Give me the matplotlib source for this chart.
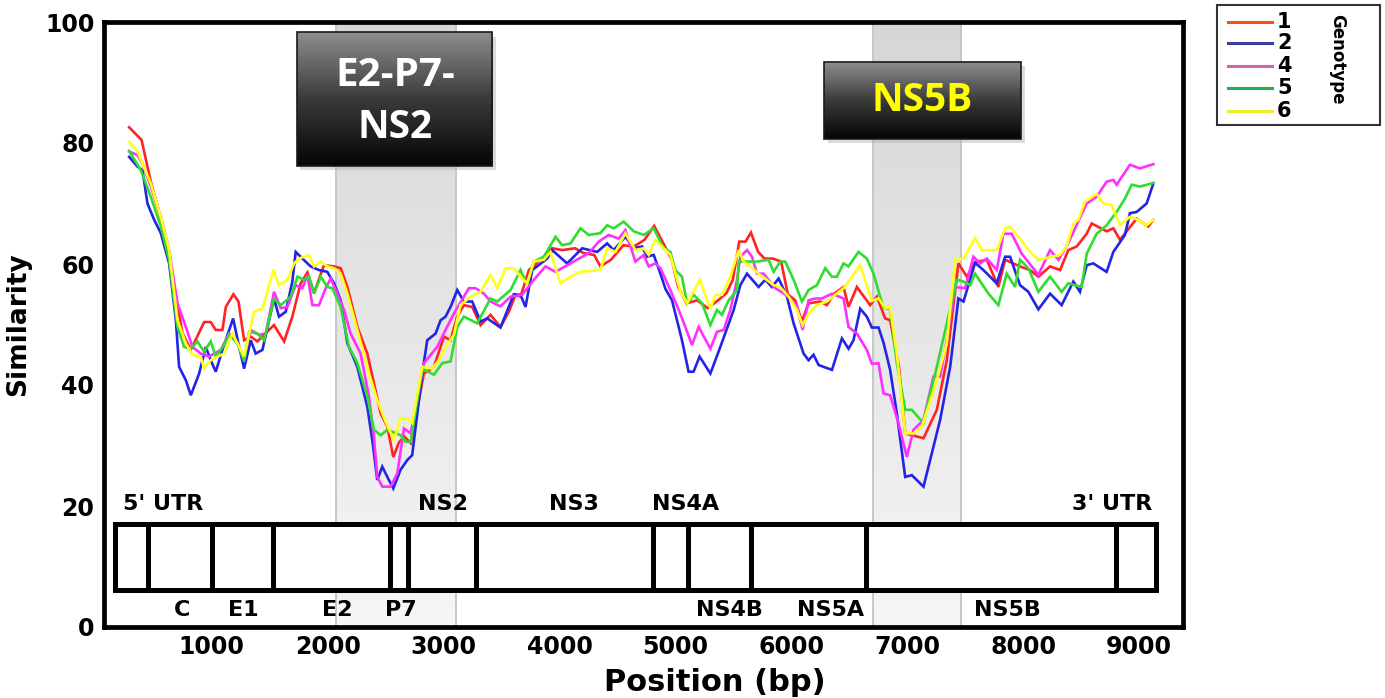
import numpy as np
import matplotlib
matplotlib.use("Agg")
import matplotlib.pyplot as plt
from matplotlib.patches import Rectangle
from matplotlib.lines import Line2D
from matplotlib.colors import LinearSegmentedColormap

# ---------------- data ----------------
genotypes = ["1", "2", "4", "5", "6"]
line_colors = ["#ff2323", "#2424e6", "#ff30ff", "#30dc30", "#ffff1e"]
legend_colors = ["#ff4a1c", "#3a3fa0", "#cc66aa", "#1db34a", "#eeee22"]

pos_g1 = [287, 394, 474, 589, 747, 819, 934, 991, 1034, 1092, 1121, 1187, 1230, 1279, 1336, 1394, 1451,
          1537, 1624, 1695, 1767, 1825, 1882, 1968, 2055, 2112, 2170, 2256, 2342, 2399, 2457, 2515, 2566,
          2615, 2660, 2716, 2787, 2830, 2917, 3003, 3060, 3118, 3175, 3247, 3319, 3405, 3491, 3563, 3621,
          3664, 3736, 3865, 3936, 4026, 4135, 4207, 4299, 4353, 4444, 4552, 4643, 4734, 4817, 4897, 4969,
          5024, 5096, 5188, 5278, 5369, 5441, 5496, 5551, 5605, 5652, 5714, 5768, 5841, 5913, 5970, 6034,
          6091, 6149, 6250, 6307, 6370, 6451, 6494, 6566, 6681, 6739, 6810, 6853, 6929, 6983, 7040, 7141,
          7256, 7342, 7442, 7515, 7586, 7687, 7787, 7845, 7974, 8060, 8132, 8233, 8319, 8391, 8463, 8549,
          8592, 8721, 8779, 8836, 8980, 9080, 9124]
sim_g1 = [82.6, 80.5, 73.6, 65.6, 48.6, 45.8, 50.4, 50.4, 49.1, 49.1, 52.9, 55.0, 53.8, 47.4, 48.0, 47.2, 48.3,
          49.9, 47.2, 51.3, 56.8, 58.6, 55.2, 59.8, 59.6, 59.3, 56.2, 49.6, 45.2, 40.3, 35.3, 33.1, 28.1,
          30.5, 31.5, 30.4, 37.5, 41.9, 43.0, 48.0, 47.4, 51.3, 53.2, 52.9, 49.9, 51.6, 49.6, 52.1, 54.9,
          54.6, 59.0, 61.2, 62.6, 62.3, 62.6, 61.8, 61.5, 59.6, 60.7, 63.1, 62.9, 64.0, 66.3, 63.4, 60.7,
          56.2, 53.5, 54.0, 52.7, 54.0, 55.2, 57.4, 63.7, 63.7, 65.2, 62.0, 60.9, 60.9, 60.4, 55.0, 54.0,
          50.5, 53.5, 53.8, 53.2, 55.1, 56.2, 52.9, 56.2, 53.2, 54.6, 51.0, 50.7, 43.0, 32.0, 31.7, 31.2,
          35.9, 44.1, 60.1, 57.9, 60.3, 60.7, 56.2, 60.7, 59.6, 59.0, 57.9, 59.6, 59.0, 62.3, 62.9, 65.0,
          66.7, 65.4, 65.9, 64.0, 67.5, 66.2, 67.3]

pos_g2 = [287, 359, 402, 445, 503, 560, 632, 690, 718, 776, 819, 891, 948, 991, 1034, 1092, 1184, 1236, 1279,
          1336, 1379, 1437, 1537, 1580, 1638, 1695, 1724, 1782, 1853, 1925, 1997, 2055, 2112, 2170, 2256,
          2342, 2385, 2428, 2471, 2528, 2566, 2629, 2687, 2729, 2816, 2859, 2931, 2974, 3017, 3060, 3118,
          3175, 3247, 3319, 3377, 3491, 3606, 3664, 3707, 3765, 3894, 3937, 4066, 4196, 4325, 4411, 4468,
          4569, 4641, 4713, 4756, 4813, 4871, 4914, 4971, 5057, 5114, 5157, 5209, 5302, 5388, 5503, 5560,
          5618, 5718, 5776, 5833, 5891, 5963, 6020, 6106, 6149, 6192, 6236, 6351, 6437, 6494, 6537, 6595,
          6652, 6695, 6753, 6796, 6853, 6911, 6983, 7040, 7141, 7198, 7284, 7371, 7442, 7486, 7586, 7658,
          7773, 7845, 7888, 7974, 8046, 8132, 8233, 8333, 8434, 8491, 8549, 8606, 8721, 8779, 8879, 8922,
          8980, 9066, 9124]
sim_g2 = [77.7, 76.1, 75.5, 70.0, 67.3, 65.1, 60.1, 50.7, 43.0, 40.8, 38.3, 41.9, 46.3, 44.1, 42.2, 45.8, 51.0,
          46.3, 42.7, 47.4, 45.2, 45.8, 54.3, 51.3, 52.1, 57.1, 62.0, 60.9, 59.6, 59.0, 58.7, 56.8, 54.0,
          46.9, 43.0, 36.4, 30.9, 24.3, 26.5, 24.3, 22.9, 26.0, 27.6, 28.4, 41.9, 47.4, 48.5, 50.7, 51.3,
          52.9, 55.7, 53.8, 53.8, 50.5, 51.0, 49.5, 55.0, 54.9, 52.9, 59.0, 60.9, 62.3, 60.1, 62.6, 62.0,
          63.4, 62.3, 64.5, 62.6, 62.9, 61.2, 61.5, 58.4, 55.9, 54.0, 47.4, 42.2, 42.2, 44.7, 41.9, 46.3,
          52.4, 56.5, 58.4, 56.2, 57.4, 56.2, 57.6, 54.6, 50.2, 45.2, 44.1, 45.0, 43.3, 42.5, 47.7, 46.0,
          47.4, 52.6, 51.3, 49.5, 49.5, 47.0, 42.5, 35.3, 24.8, 25.1, 23.2, 27.6, 34.2, 43.0, 54.3, 53.8,
          60.2, 59.0, 56.8, 61.2, 61.2, 56.5, 55.4, 52.5, 55.1, 53.2, 57.1, 55.4, 59.8, 60.1, 58.7, 62.0,
          64.8, 68.4, 68.6, 70.0, 73.3]

pos_g4 = [287, 359, 402, 474, 560, 632, 704, 776, 833, 905, 977, 1078, 1149, 1207, 1279, 1336, 1408, 1466,
          1537, 1595, 1652, 1724, 1782, 1825, 1868, 1925, 1983, 2026, 2083, 2141, 2198, 2284, 2356, 2399,
          2428, 2471, 2543, 2601, 2658, 2716, 2830, 2945, 3017, 3089, 3218, 3276, 3348, 3405, 3491, 3578,
          3678, 3779, 3879, 3966, 4066, 4253, 4339, 4425, 4511, 4569, 4655, 4727, 4770, 4828, 4871, 4957,
          5029, 5086, 5143, 5201, 5302, 5359, 5417, 5474, 5532, 5560, 5618, 5661, 5704, 5761, 5804, 5848,
          5977, 6049, 6098, 6149, 6207, 6264, 6351, 6451, 6494, 6566, 6652, 6695, 6753, 6796, 6853, 6925,
          6997, 7055, 7141, 7227, 7284, 7342, 7414, 7500, 7572, 7629, 7687, 7773, 7830, 7902, 7988, 8075,
          8132, 8233, 8305, 8376, 8549, 8635, 8721, 8779, 8807, 8922, 9009, 9124]
sim_g4 = [78.6, 78.0, 76.6, 72.8, 67.8, 62.3, 53.5, 49.6, 46.3, 45.2, 44.7, 45.8, 48.5, 47.4, 44.7, 49.1, 48.3,
          48.5, 55.4, 52.7, 52.9, 56.5, 56.0, 58.2, 53.2, 53.2, 56.0, 57.6, 55.1, 52.4, 48.5, 45.2, 38.1,
          31.5, 24.8, 23.2, 23.2, 25.4, 32.8, 32.0, 43.6, 46.3, 49.1, 51.8, 56.0, 56.0, 55.1, 53.8, 53.0,
          54.6, 54.9, 57.4, 59.6, 58.7, 59.8, 61.8, 63.7, 64.8, 64.2, 65.6, 60.4, 61.5, 59.6, 60.1, 59.3,
          55.7, 52.4, 49.6, 46.6, 49.6, 46.0, 48.8, 49.1, 52.4, 57.4, 61.2, 62.3, 61.2, 58.4, 58.4, 57.4,
          56.2, 54.6, 53.0, 49.1, 54.0, 54.3, 54.3, 55.1, 54.3, 49.6, 48.5, 45.8, 43.5, 43.6, 38.6, 38.3,
          33.7, 28.1, 32.6, 34.2, 41.4, 41.4, 47.4, 56.2, 56.0, 61.2, 60.1, 60.9, 59.0, 65.0, 65.0, 61.7,
          59.6, 58.2, 62.3, 60.7, 62.9, 70.0, 71.1, 73.6, 73.9, 73.1, 76.4, 75.8, 76.5]

pos_g5 = [287, 388, 474, 560, 632, 704, 761, 819, 876, 934, 991, 1034, 1106, 1149, 1221, 1279, 1322, 1394,
          1451, 1537, 1595, 1681, 1739, 1796, 1839, 1882, 1940, 1997, 2040, 2112, 2184, 2256, 2342, 2399,
          2457, 2515, 2629, 2672, 2716, 2816, 2917, 2988, 3060, 3118, 3175, 3290, 3405, 3463, 3578, 3664,
          3721, 3779, 3865, 3966, 4023, 4095, 4181, 4253, 4353, 4411, 4468, 4554, 4641, 4727, 4813, 4899,
          4957, 5000, 5057, 5101, 5158, 5230, 5302, 5359, 5402, 5460, 5532, 5546, 5618, 5704, 5804, 5848,
          5905, 5948, 6020, 6092, 6149, 6221, 6293, 6351, 6394, 6451, 6494, 6580, 6652, 6710, 6753, 6796,
          6853, 6911, 6983, 7040, 7141, 7198, 7256, 7428, 7486, 7543, 7586, 7701, 7787, 7859, 7931, 7974,
          8046, 8132, 8233, 8333, 8391, 8506, 8549, 8635, 8721, 8807, 8879, 8937, 9009, 9124]
sim_g5 = [78.7, 75.5, 71.1, 66.2, 60.7, 49.6, 46.3, 46.0, 47.2, 45.5, 47.2, 44.7, 46.6, 48.3, 46.9, 43.9, 48.8,
          48.5, 47.4, 54.3, 53.2, 54.6, 57.9, 57.4, 57.9, 55.1, 57.9, 56.2, 56.0, 52.9, 46.3, 43.6, 38.1,
          32.6, 31.7, 32.6, 31.7, 30.6, 30.6, 42.7, 41.7, 43.6, 43.9, 49.6, 51.3, 50.2, 54.3, 53.8, 55.7,
          59.0, 56.6, 60.4, 61.2, 64.5, 63.1, 63.4, 65.9, 64.8, 65.1, 66.4, 65.9, 67.0, 65.4, 64.8, 65.9,
          62.6, 62.0, 59.0, 57.9, 53.5, 54.9, 53.5, 49.9, 52.4, 51.6, 54.0, 55.7, 60.4, 60.4, 60.4, 60.7,
          58.7, 60.4, 60.4, 57.4, 53.8, 55.7, 56.5, 59.3, 57.9, 57.9, 60.1, 59.6, 62.0, 60.9, 58.4, 55.5,
          52.7, 52.6, 43.6, 35.9, 35.9, 33.7, 38.6, 43.0, 57.4, 57.1, 56.5, 58.4, 55.1, 53.2, 58.4, 56.2,
          60.7, 59.3, 55.4, 57.9, 55.4, 56.8, 56.2, 61.7, 65.0, 66.4, 68.6, 70.8, 73.1, 72.8, 73.4]

pos_g6 = [287, 359, 474, 560, 632, 704, 776, 833, 905, 934, 991, 1106, 1178, 1221, 1279, 1365, 1437, 1532,
          1580, 1652, 1710, 1753, 1839, 1882, 1940, 1997, 2055, 2112, 2170, 2256, 2356, 2428, 2500, 2572,
          2629, 2687, 2729, 2816, 2902, 2960, 3017, 3089, 3146, 3233, 3319, 3405, 3463, 3534, 3606, 3664,
          3721, 3779, 3865, 3922, 4009, 4095, 4181, 4353, 4411, 4483, 4569, 4655, 4727, 4770, 4828, 4885,
          4957, 5043, 5101, 5211, 5302, 5345, 5402, 5474, 5546, 5589, 5647, 5718, 5848, 5905, 5977, 6049,
          6098, 6149, 6221, 6307, 6451, 6523, 6595, 6695, 6753, 6810, 6853, 6911, 6983, 7055, 7127, 7256,
          7342, 7414, 7486, 7586, 7644, 7773, 7845, 7888, 7974, 8046, 8132, 8319, 8376, 8434, 8477, 8534,
          8635, 8692, 8764, 8836, 8922, 8994, 9066, 9124]
sim_g6 = [80.2, 78.6, 73.3, 67.8, 62.3, 50.7, 46.9, 45.0, 44.7, 42.7, 44.1, 45.2, 48.5, 46.9, 44.7, 52.1, 52.6,
          59.0, 56.5, 57.4, 60.1, 60.9, 61.5, 59.6, 60.4, 59.6, 59.3, 58.4, 55.1, 49.1, 41.9, 37.5, 33.9,
          30.9, 34.5, 34.5, 33.7, 43.0, 42.7, 44.1, 46.3, 48.3, 53.2, 54.6, 55.4, 58.2, 56.0, 59.3, 59.3,
          57.9, 56.8, 60.4, 60.7, 62.0, 56.8, 57.9, 58.7, 59.0, 62.6, 62.0, 65.1, 62.3, 62.6, 61.5, 64.0,
          62.9, 61.5, 55.4, 53.5, 57.4, 52.6, 54.9, 54.9, 57.9, 62.3, 60.4, 59.6, 58.4, 56.5, 56.2, 54.6,
          52.4, 49.9, 51.8, 53.2, 53.8, 56.0, 57.9, 59.8, 53.9, 54.3, 52.7, 52.9, 45.2, 32.0, 32.0, 33.1,
          40.8, 46.9, 60.7, 60.9, 64.3, 62.3, 62.3, 65.9, 66.2, 64.2, 62.3, 60.7, 61.5, 62.9, 66.7, 67.3,
          70.3, 71.6, 70.0, 69.8, 66.4, 67.8, 67.3, 66.4, 67.3]

positions = [pos_g1, pos_g2, pos_g4, pos_g5, pos_g6]
similarities = [sim_g1, sim_g2, sim_g4, sim_g5, sim_g6]

# highlighted regions (bp)
band_starts = [2069, 6704]
band_ends = [3103, 7466]

# genome map
map_bounds = [161, 452, 1006, 1524, 2534, 2695, 3283, 4810, 5112, 5655, 6647, 8802, 9147]
top_labels = ["5' UTR", "NS2", "NS3", "NS4A", "3' UTR"]
top_label_pos = [584, 2991, 4122, 5091, 8770]
bottom_labels = ["C", "E1", "E2", "P7", "NS4B", "NS5A", "NS5B"]
bottom_label_pos = [741, 1276, 2082, 2634, 5468, 6336, 7862]

x_ticks = [1000, 2000, 3000, 4000, 5000, 6000, 7000, 8000, 9000]
y_ticks = [0, 20, 40, 60, 80, 100]

# ---------------- figure ----------------
W, H = 1385, 698
fig = plt.figure(figsize=(W / 100, H / 100), dpi=100)
ax = fig.add_axes([104 / W, 1 - 627 / H, (1183 - 104) / W, (627 - 22) / H])
ax.set_xlim(70, 9380)
ax.set_ylim(0, 100)

# shaded bands with vertical gradient
grad = np.linspace(0, 1, 256).reshape(-1, 1)
band_cmap = LinearSegmentedColormap.from_list("band", ["#d6d6d6", "#f6f6f6"])
for s, e in zip(band_starts, band_ends):
    ax.imshow(grad, extent=[s, e, 0, 100], origin="upper", aspect="auto",
              cmap=band_cmap, zorder=0.5, interpolation="bilinear")
    ax.plot([s, s], [0, 100], color="#c4c4c4", lw=1.3, zorder=0.6)
    ax.plot([e, e], [0, 100], color="#c4c4c4", lw=1.3, zorder=0.6)

# similarity lines
for p, s, c in zip(positions, similarities, line_colors):
    ax.plot(p, s, color=c, lw=1.9, zorder=2, solid_joinstyle="miter")

# genome map
ax.add_patch(Rectangle((map_bounds[0], 6.1), map_bounds[-1] - map_bounds[0], 17.0 - 6.1,
                       facecolor="white", edgecolor="black", lw=3.6, zorder=3))
for b in map_bounds[1:-1]:
    ax.plot([b, b], [6.1, 17.0], color="black", lw=3.6, zorder=3.1, solid_capstyle="butt")
for lab, p in zip(top_labels, top_label_pos):
    ax.text(p, 20.3, lab, ha="center", va="center", fontsize=16, fontweight="bold", zorder=4)
for lab, p in zip(bottom_labels, bottom_label_pos):
    ax.text(p, 2.8, lab, ha="center", va="center", fontsize=16, fontweight="bold", zorder=4)

# annotation boxes with dark gradient
box_cmap = LinearSegmentedColormap.from_list("box", ["#8e8e8e", "#3a3a3a", "#050505"])
boxes = [(1733, 3422, 76.2, 98.3), (6284, 7983, 80.7, 93.4)]
for x0, x1, y0, y1 in boxes:
    ax.add_patch(Rectangle((x0 + 30, y0 - 0.7), x1 - x0, y1 - y0, facecolor="#b0b0b0",
                           edgecolor="none", alpha=0.45, zorder=5, clip_on=False))
    ax.imshow(grad, extent=[x0, x1, y0, y1], origin="upper", aspect="auto",
              cmap=box_cmap, zorder=5.5, interpolation="bilinear")
    ax.add_patch(Rectangle((x0, y0), x1 - x0, y1 - y0, facecolor="none",
                           edgecolor="#1a1a1a", lw=1.2, zorder=5.6))
box_font = ["Open Sans", "DejaVu Sans"]
ax.text(2586, 91.2, "E2-P7-", ha="center", va="center", color="white", fontsize=29,
        fontweight="bold", family=box_font, zorder=6)
ax.text(2578, 82.5, "NS2", ha="center", va="center", color="white", fontsize=28,
        fontweight="bold", family=box_font, zorder=6)
ax.text(7129, 87.0, "NS5B", ha="center", va="center", color="#ffff00", fontsize=28,
        fontweight="bold", family=box_font, zorder=6)
ax.set_xlim(70, 9380)
ax.set_ylim(0, 100)

# axes styling
for sp in ax.spines.values():
    sp.set_linewidth(3.4)
    sp.set_color("black")
ax.set_xticks(x_ticks)
ax.set_yticks(y_ticks)
ax.set_xticklabels([str(t) for t in x_ticks], fontsize=17, fontweight="bold")
ax.set_yticklabels([str(t) for t in y_ticks], fontsize=17, fontweight="bold")
ax.tick_params(axis="both", length=0)
ax.tick_params(axis="x", pad=6)
ax.tick_params(axis="y", pad=7)
ax.set_xlabel("Position (bp)", fontsize=22, fontweight="bold")
ax.xaxis.set_label_coords(0.566, -0.068)
ax.set_ylabel("Similarity", fontsize=19, fontweight="bold",
              family=["Liberation Sans Narrow", "DejaVu Sans"], labelpad=10)

# legend (figure coordinates)
fig.add_artist(Rectangle((1217 / W, 1 - 125 / H), (1380 - 1217) / W, (125 - 5) / H,
                         transform=fig.transFigure, facecolor="white", edgecolor="#333333", lw=1.5))
leg_y = [21.7, 42.7, 65.7, 88.3, 111.0]
for g, c, yy in zip(genotypes, legend_colors, leg_y):
    fig.add_artist(Line2D([1228 / W, 1272 / W], [1 - yy / H, 1 - yy / H], color=c, lw=2.2,
                          transform=fig.transFigure))
    fig.text(1277 / W, 1 - yy / H, g, ha="left", va="center", fontsize=15, fontweight="bold")
fig.text(1337 / W, 1 - 59 / H, "Genotype", rotation=-90, ha="center", va="center",
         fontsize=12, fontweight="bold")

fig.savefig("out.png", dpi=100)
